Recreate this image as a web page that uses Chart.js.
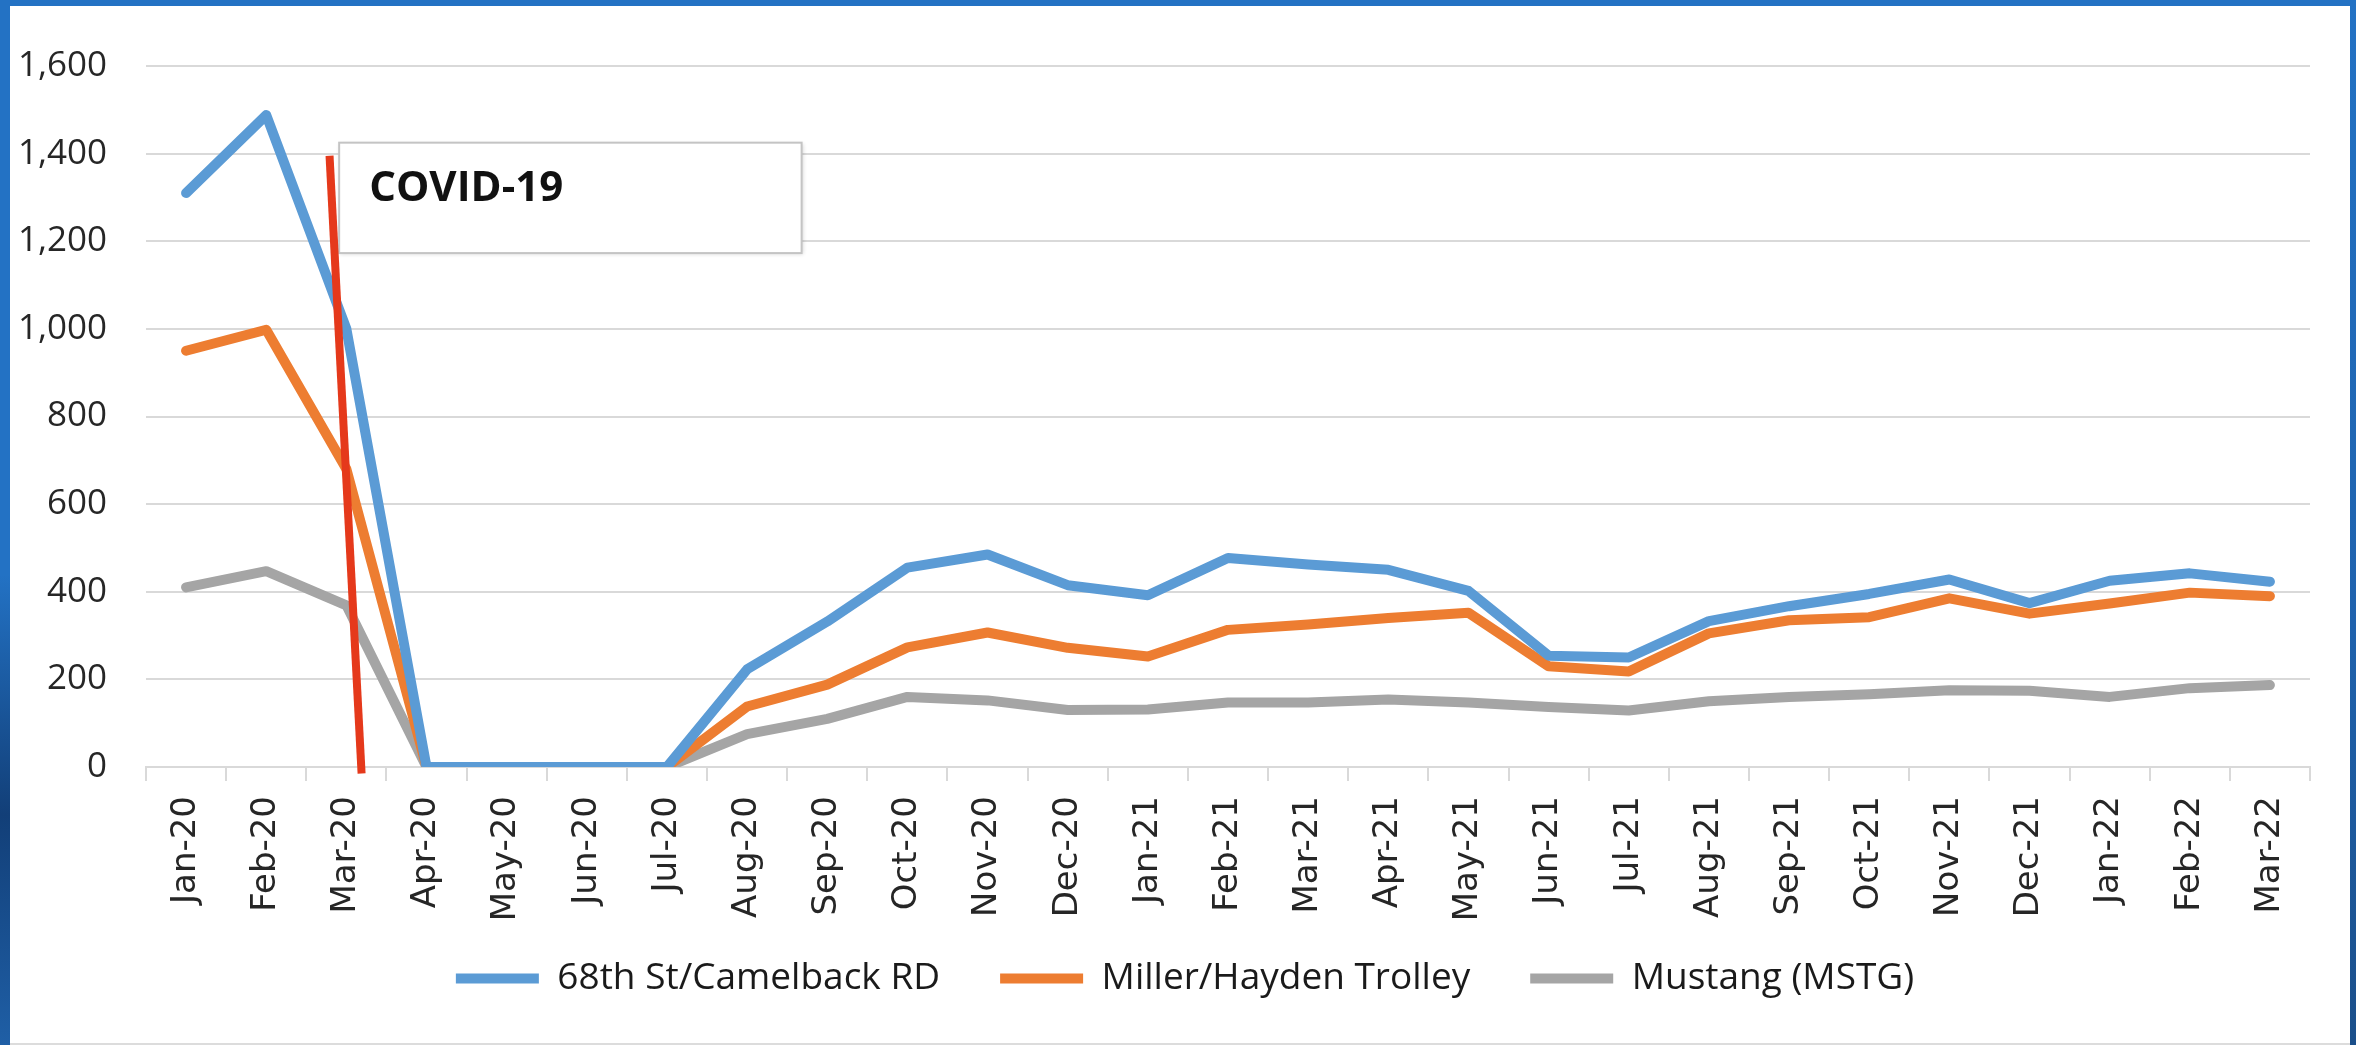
<!DOCTYPE html>
<html>
<head>
<meta charset="utf-8">
<script src="https://cdn.jsdelivr.net/npm/chart.js@4"></script>
<style>
  html, body { margin: 0; padding: 0; }
  body { width: 2356px; height: 1045px; position: relative; overflow: hidden; background: #fff; }
  #frameTop { position: absolute; left: 0; top: 0; width: 2356px; height: 6px; background: #2372c4; }
  #frameLeft { position: absolute; left: 0; top: 0; width: 10px; height: 1045px;
    background: linear-gradient(#2372c4 0%, #2372c4 55%, #123f78 78%, #1f5fa6 100%); }
  #frameRight { position: absolute; right: 0; top: 0; width: 6px; height: 1045px;
    background: linear-gradient(#2372c4 0%, #1f62ad 60%, #1b4f8a 100%); }
  #frameBottom { position: absolute; left: 10px; bottom: 0; width: 2340px; height: 2px; background: #dcdcdc; }
  #wrap { position: absolute; left: 10px; top: 6px; width: 2340px; height: 1037px; }
</style>
</head>
<body>
<div id="frameTop"></div>
<div id="frameLeft"></div>
<div id="frameRight"></div>
<div id="frameBottom"></div>
<div id="wrap"><canvas id="ridership" width="2340" height="1037"></canvas></div>
<script>
// months on the x axis
const months = ['Jan-20', 'Feb-20', 'Mar-20', 'Apr-20', 'May-20', 'Jun-20', 'Jul-20', 'Aug-20', 'Sep-20',
  'Oct-20', 'Nov-20', 'Dec-20', 'Jan-21', 'Feb-21', 'Mar-21', 'Apr-21', 'May-21', 'Jun-21', 'Jul-21',
  'Aug-21', 'Sep-21', 'Oct-21', 'Nov-21', 'Dec-21', 'Jan-22', 'Feb-22', 'Mar-22'];

// series
const camelback = [1310, 1488, 1000, 0, 0, 0, 0, 223, 332, 455, 485, 415, 392, 477, 462, 450, 402, 254, 250,
  333, 367, 395, 428, 374, 425, 442, 423];
const miller = [950, 998, 680, 0, 0, 0, 0, 138, 188, 273, 307, 272, 252, 313, 325, 340, 352, 230, 218,
  305, 335, 342, 385, 350, 373, 398, 390];
const mustang = [410, 447, 369, 0, 0, 0, 0, 75, 110, 160, 152, 130, 131, 147, 147, 154, 147, 137, 129,
  150, 160, 166, 175, 174, 160, 180, 187];

const seriesNames = ['68th St/Camelback RD', 'Miller/Hayden Trolley', 'Mustang (MSTG)'];
const yTicks = {min: 0, max: 1600, step: 200};

// covid marker, in category index / value units
const covidLine = {x: [1.79, 2.19], y: [1395, -15]};
const covidBox = {x: [1.91, 7.68], y: [1425, 1173], text: 'COVID-19'};

const colors = ['#5b9bd5', '#ed7d31', '#a5a5a5'];

function line(label, data, color) {
  return {
    label: label,
    data: data,
    borderColor: color,
    backgroundColor: color,
    borderWidth: 10,
    pointRadius: 0,
    borderJoinStyle: 'round',
    borderCapStyle: 'round',
    tension: 0,
    fill: false
  };
}

// red line + text box for the covid note
const covidNote = {
  id: 'covidNote',
  afterDatasetsDraw(chart) {
    const ctx = chart.ctx;
    const xs = chart.scales.x, ys = chart.scales.y;

    const bl = xs.getPixelForValue(covidBox.x[0]), br = xs.getPixelForValue(covidBox.x[1]);
    const bt = ys.getPixelForValue(covidBox.y[0]), bb = ys.getPixelForValue(covidBox.y[1]);
    ctx.save();
    ctx.shadowColor = 'rgba(0,0,0,0.18)';
    ctx.shadowBlur = 4;
    ctx.shadowOffsetX = 1;
    ctx.shadowOffsetY = 1;
    ctx.fillStyle = '#ffffff';
    ctx.fillRect(bl, bt, br - bl, bb - bt);
    ctx.restore();
    ctx.save();
    ctx.strokeStyle = '#c4c4c4';
    ctx.lineWidth = 2;
    ctx.strokeRect(bl, bt, br - bl, bb - bt);
    ctx.fillStyle = '#111';
    ctx.font = 'bold 42px "Open Sans"';
    ctx.textBaseline = 'middle';
    ctx.fillText(covidBox.text, bl + 30, bt + 46);
    ctx.restore();

    ctx.save();
    ctx.strokeStyle = '#e5391b';
    ctx.lineWidth = 8;
    ctx.lineCap = 'butt';
    ctx.beginPath();
    ctx.moveTo(xs.getPixelForValue(covidLine.x[0]), ys.getPixelForValue(covidLine.y[0]));
    ctx.lineTo(xs.getPixelForValue(covidLine.x[1]), ys.getPixelForValue(covidLine.y[1]));
    ctx.stroke();
    ctx.restore();
  }
};

// nudge the legend up and right a little, like the excel original
const legendNudge = {
  id: 'legendNudge',
  afterLayout(chart) {
    const lg = chart.legend;
    lg.left += 25; lg.right += 25;
    lg.top -= 36; lg.bottom -= 36;
  }
};

const canvas = document.getElementById('ridership');

new Chart(canvas, {
  type: 'line',
  data: {
    labels: months,
    datasets: [
      line(seriesNames[0], camelback, colors[0]),
      line(seriesNames[1], miller, colors[1]),
      line(seriesNames[2], mustang, colors[2])
    ]
  },
  plugins: [covidNote, legendNudge],
  options: {
    responsive: false,
    animation: false,
    devicePixelRatio: 1,
    layout: {
      padding: {left: 0, right: 40, top: 60, bottom: 0}
    },
    plugins: {
      tooltip: {enabled: false},
      legend: {
        position: 'bottom',
        labels: {
          boxWidth: 83,
          boxHeight: 10,
          padding: 60,
          color: '#1a1a1a',
          font: {family: '"Open Sans"', size: 37},
          generateLabels(chart) {
            const items = Chart.defaults.plugins.legend.labels.generateLabels(chart);
            items.forEach(function(it) { it.lineWidth = 0; });
            return items;
          }
        }
      }
    },
    scales: {
      x: {
        offset: true,
        afterFit(scale) { scale.height = 169; },
        grid: {
          offset: true,
          drawOnChartArea: false,
          drawTicks: true,
          tickLength: 14,
          color: '#d9d9d9',
          lineWidth: 2
        },
        border: {display: true, color: '#d9d9d9', width: 2},
        ticks: {
          autoSkip: false,
          minRotation: 90,
          maxRotation: 90,
          padding: 15,
          color: '#262626',
          font: {family: '"DejaVu Sans"', size: 34}
        }
      },
      y: {
        min: yTicks.min,
        max: yTicks.max,
        afterFit(scale) { scale.width = 136; },
        grid: {
          color: '#d9d9d9',
          lineWidth: 2,
          drawTicks: false
        },
        border: {display: false},
        ticks: {
          stepSize: yTicks.step,
          padding: 39,
          color: '#262626',
          font: {family: '"Open Sans"', size: 35}
        }
      }
    }
  }
});
</script>
</body>
</html>
